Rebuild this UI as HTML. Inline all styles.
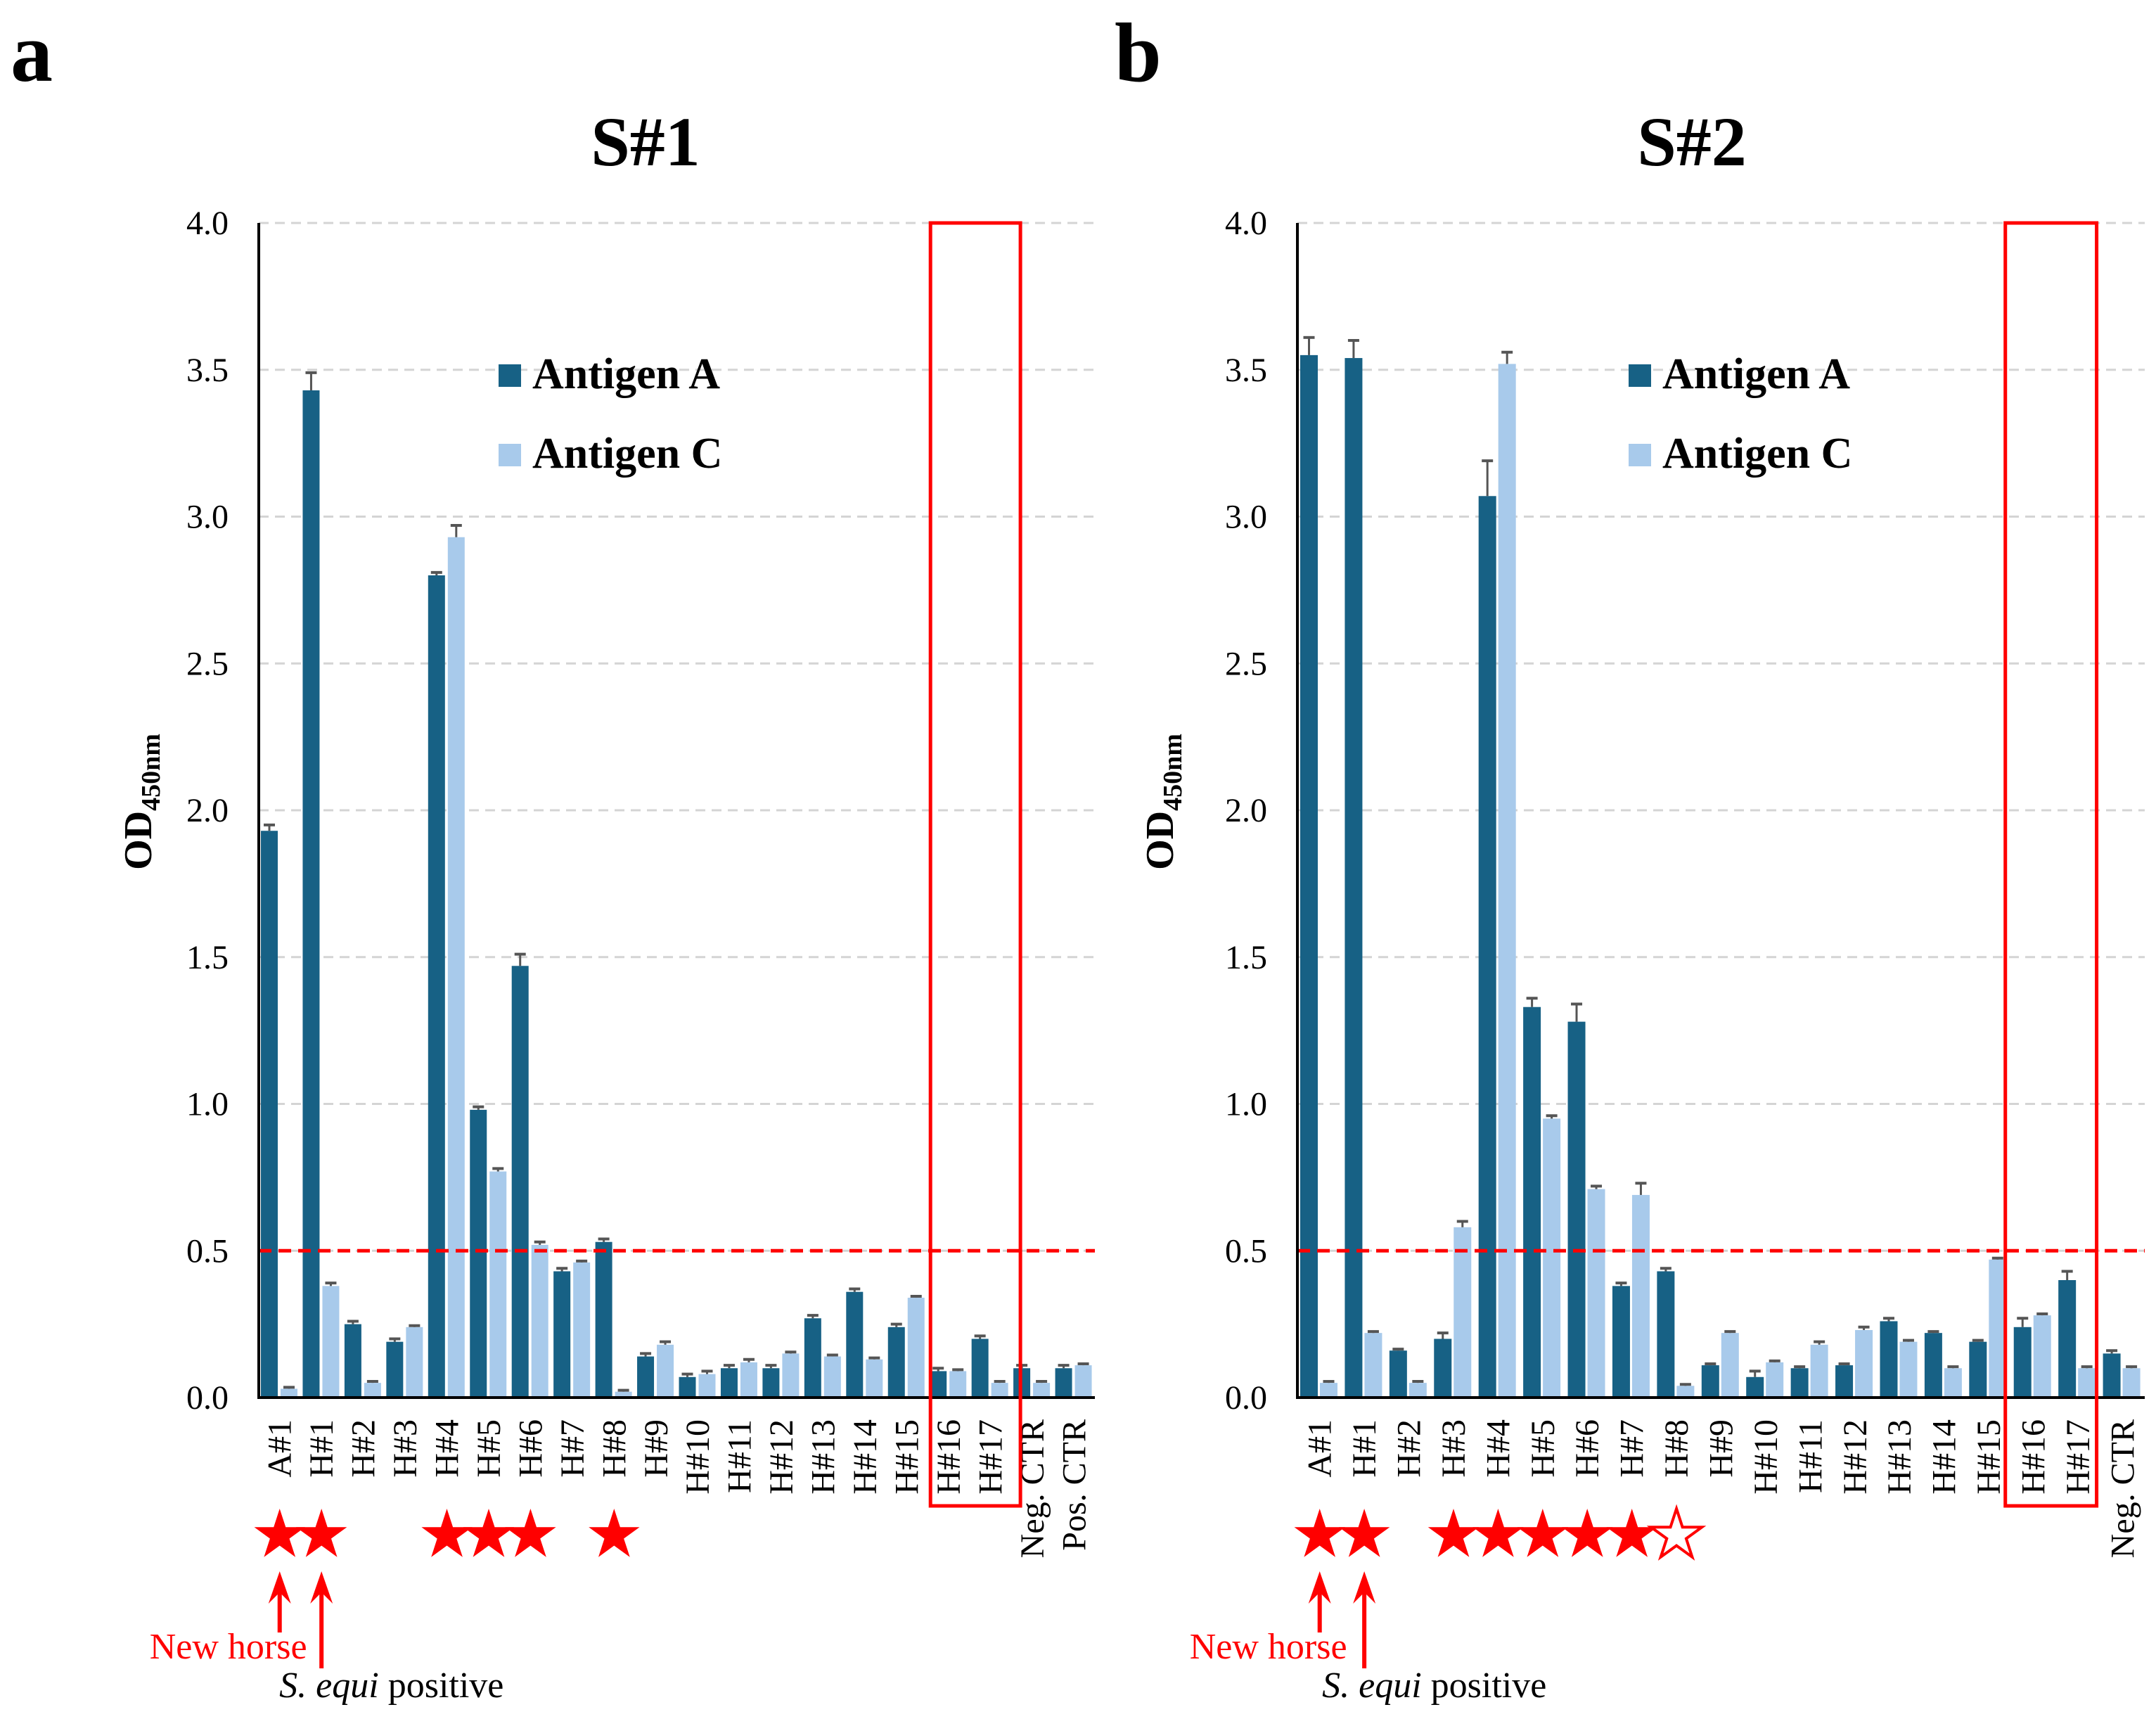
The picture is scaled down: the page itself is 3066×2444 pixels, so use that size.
<!DOCTYPE html>
<html><head><meta charset="utf-8"><style>
html,body{margin:0;padding:0;background:#fff}
svg{display:block}
text{font-family:"Liberation Serif",serif}
</style></head><body>
<svg id="fig" width="3066" height="2444" viewBox="0 0 3066 2444" xmlns="http://www.w3.org/2000/svg"></svg>
<script>
const catsS1 = ["A#1","H#1","H#2","H#3","H#4","H#5","H#6","H#7","H#8","H#9","H#10","H#11","H#12","H#13","H#14","H#15","H#16","H#17","Neg. CTR","Pos. CTR"];
const s1A = [1.93,3.43,0.25,0.19,2.80,0.98,1.47,0.43,0.53,0.14,0.07,0.10,0.10,0.27,0.36,0.24,0.09,0.20,0.10,0.10];
const s1C = [0.03,0.38,0.05,0.24,2.93,0.77,0.52,0.46,0.02,0.18,0.08,0.12,0.15,0.14,0.13,0.34,0.09,0.05,0.05,0.11];
const s1AErr = [0.02,0.06,0.01,0.01,0.01,0.01,0.04,0.01,0.01,0.01,0.01,0.01,0.01,0.01,0.01,0.01,0.01,0.01,0.01,0.01];
const s1CErr = [0.005,0.01,0.005,0.005,0.04,0.01,0.01,0.005,0.005,0.01,0.01,0.01,0.005,0.005,0.005,0.005,0.005,0.005,0.005,0.005];
const s1Stars = [1,1,0,0,1,1,1,0,1,0,0,0,0,0,0,0,0,0,0,0];

const catsS2 = ["A#1","H#1","H#2","H#3","H#4","H#5","H#6","H#7","H#8","H#9","H#10","H#11","H#12","H#13","H#14","H#15","H#16","H#17","Neg. CTR"];
const s2A = [3.55,3.54,0.16,0.20,3.07,1.33,1.28,0.38,0.43,0.11,0.07,0.10,0.11,0.26,0.22,0.19,0.24,0.40,0.15];
const s2C = [0.05,0.22,0.05,0.58,3.52,0.95,0.71,0.69,0.04,0.22,0.12,0.18,0.23,0.19,0.10,0.47,0.28,0.10,0.10];
const s2AErr = [0.06,0.06,0.005,0.02,0.12,0.03,0.06,0.01,0.01,0.005,0.02,0.005,0.005,0.01,0.005,0.005,0.03,0.03,0.01];
const s2CErr = [0.005,0.005,0.005,0.02,0.04,0.01,0.01,0.04,0.005,0.005,0.005,0.01,0.01,0.005,0.005,0.005,0.005,0.005,0.005];
const s2Stars = [1,1,0,1,1,1,1,1,2,0,0,0,0,0,0,0,0,0,0];

const yTicks = [0.0,0.5,1.0,1.5,2.0,2.5,3.0,3.5,4.0];
const cutoff = 0.5;

const NS="http://www.w3.org/2000/svg";
const svg=document.getElementById('fig');
function mk(tag,attrs,parent){const e=document.createElementNS(NS,tag);for(const k in attrs)e.setAttribute(k,attrs[k]);(parent||svg).appendChild(e);return e;}
const DARK="#176185", LIGHT="#a8caeb", RED="#ff0000";

function starPts(cx,cy,R){const r=R*0.382;let p=[];for(let i=0;i<10;i++){const a=-Math.PI/2+i*Math.PI/5;const rr=i%2?r:R;p.push((cx+rr*Math.cos(a)).toFixed(1)+","+(cy+rr*Math.sin(a)).toFixed(1));}return p.join(" ");}

function chart(o){
  const g=mk('g',{});
  
  
  const y0=1987,y4=317;
  const y=v=>y0-(v/4)*(y0-y4);
  const n=o.cats.length;
  const gw=(o.xEnd-o.x0)/n;
  const x=i=>o.x0+i*gw;
  yTicks.forEach(t=>{
    if(t>0){const l=mk('line',{x1:o.x0,x2:o.xEnd,y1:y(t),y2:y(t),stroke:"#d4d4d4","stroke-width":3,"stroke-dasharray":"14 9"},g);
      }
    const tx=mk('text',{x:o.x0-43,y:y(t)+16,"font-size":48,"text-anchor":"end"},g);
    
    tx.textContent=t.toFixed(1);
  });
  for(let i=0;i<n;i++){
    [[o.A,o.AE,DARK,o.off],[o.C,o.CE,LIGHT,o.off+o.bw+o.gap]].forEach(([vals,errs,col,off],k)=>{
      const bx=x(i)+off;
      const r=mk('rect',{x:bx,y:y(vals[i]),width:o.bw,height:y0-y(vals[i]),fill:col},g);
      
      
      const cx=bx+o.bw/2, ey=y(vals[i]+errs[i]);
      const e1=mk('line',{x1:cx,x2:cx,y1:y(vals[i]),y2:ey,stroke:"#555","stroke-width":3},g);
      
      const e2=mk('line',{x1:cx-8,x2:cx+8,y1:ey,y2:ey,stroke:"#555","stroke-width":4},g);
      
    });
    const lx=x(i)+gw/2+16;
    const lt=mk('text',{x:lx,y:2018,"font-size":48,"text-anchor":"end",transform:`rotate(-90 ${lx} 2018)`},g);
    
    lt.textContent=o.cats[i];
    if(o.stars[i]){
      const st=mk('polygon',{points:starPts(x(i)+gw/2,2183,38),fill:o.stars[i]==1?RED:"#fff",stroke:RED,"stroke-width":o.stars[i]==1?0:4},g);
      
    }
  }
  const cl=mk('line',{x1:o.x0,x2:o.xEnd,y1:y(cutoff),y2:y(cutoff),stroke:RED,"stroke-width":5,"stroke-dasharray":"18 10"},g);
  
  const ya=mk('line',{x1:o.x0,x2:o.x0,y1:y4,y2:y0+2,stroke:"#000","stroke-width":4},g);
  
  const xa=mk('line',{x1:o.x0-2,x2:o.xEnd,y1:y0,y2:y0,stroke:"#000","stroke-width":4},g);
  
  const bx1=x(16)+o.boxL, bx2=x(18)+o.boxR;
  const hb=mk('rect',{x:bx1,y:y4,width:bx2-bx1,height:2141-y4,fill:"none",stroke:RED,"stroke-width":5},g);
  
  const yt=mk('text',{x:o.ytx,y:1140,"font-size":56,"font-weight":"bold","text-anchor":"middle",transform:`rotate(-90 ${o.ytx} 1140)`},g);
  
  yt.innerHTML='OD<tspan font-size="38" dy="12">450nm</tspan>';
  [[o.legA,DARK,552],[o.legC,LIGHT,665]].forEach(([lab,col,ly])=>{
    const sq=mk('rect',{x:o.legX,y:ly-34,width:32,height:32,fill:col},g);
    
    const lt2=mk('text',{x:o.legX+48,y:ly,"font-size":62,"font-weight":"bold","xml:space":"preserve"},g);
    
    lt2.textContent=lab;
  });
  const tt=mk('text',{x:o.titleX,y:235,"font-size":100,"font-weight":"bold","text-anchor":"middle"},g);
  
  tt.textContent=o.title;
  const pl=mk('text',{x:o.panelX,y:115,"font-size":120,"font-weight":"bold"},g);
  
  pl.textContent=o.panel;
  [[0,2321],[1,2372]].forEach(([i,ye])=>{
    const ax=x(i)+gw/2;
    const al=mk('line',{x1:ax,x2:ax,y1:2245,y2:ye,stroke:RED,"stroke-width":6},g);
    
    const ah=mk('polygon',{points:`${ax},2234 ${ax-16},2280 ${ax},2264 ${ax+16},2280`,fill:RED},g);
    
  });
  const nh=mk('text',{x:x(0)+gw/2-185,y:2358,"font-size":52,fill:RED},g);
  
  nh.textContent="New horse";
  const sp=mk('text',{x:x(1)+gw/2-60,y:2413,"font-size":52},g);
  
  sp.innerHTML='<tspan font-style="italic">S. equi</tspan> positive';
}
chart({name:'chart-s1',cats:catsS1,A:s1A,C:s1C,AE:s1AErr,CE:s1CErr,stars:s1Stars,x0:368,xEnd:1557,bw:24,gap:4,off:3,ytx:215,legX:709,legA:"Antigen  A",legC:"Antigen  C",titleX:918,title:"S#1",panelX:15,panel:"a",boxL:4,boxR:13});
chart({name:'chart-s2',cats:catsS2,A:s2A,C:s2C,AE:s2AErr,CE:s2CErr,stars:s2Stars,x0:1845,xEnd:3050,bw:25,gap:3,off:4,ytx:1668,legX:2316,legA:"Antigen A",legC:"Antigen C",titleX:2406,title:"S#2",panelX:1585,panel:"b",boxL:-8,boxR:-5});
</script>
</body></html>
